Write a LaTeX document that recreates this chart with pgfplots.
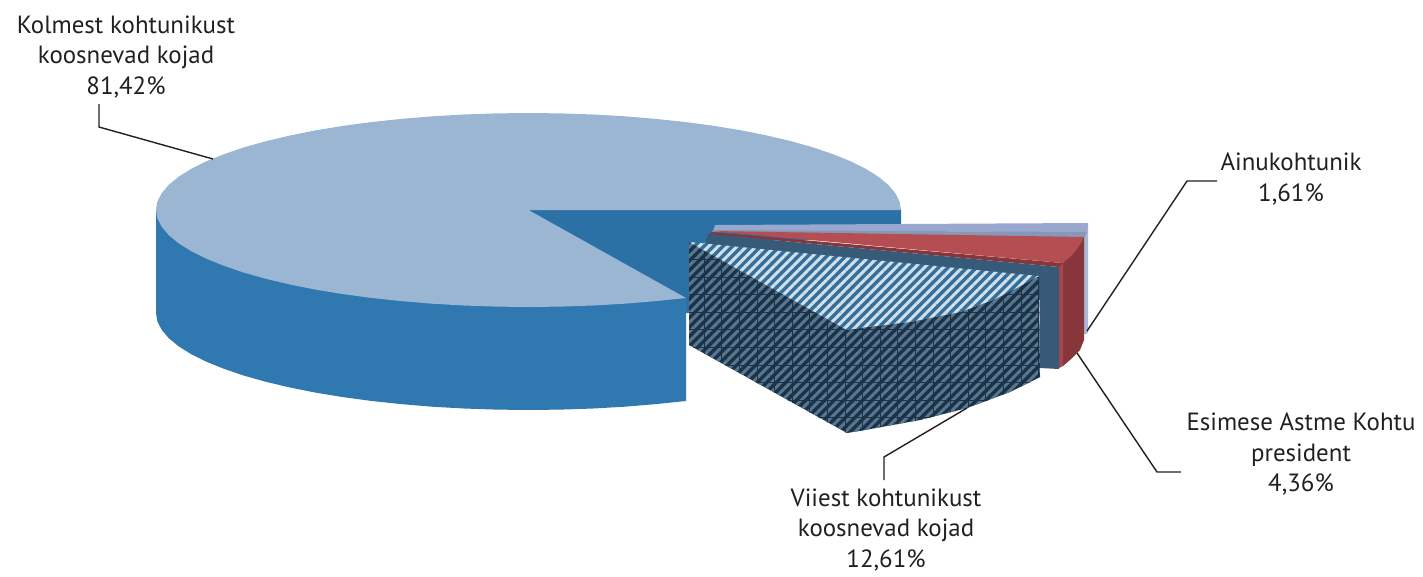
\documentclass[border=0pt]{standalone}
\usepackage{pgfplots}
\pgfplotsset{compat=1.18}
\usepackage{fontspec}
\setmainfont{PT Sans}
\usetikzlibrary{patterns.meta}
\definecolor{topblue}{HTML}{9AB6D3}
\definecolor{sideblue}{HTML}{2F78B0}
\definecolor{wallblue}{HTML}{2B71A5}
\definecolor{lavtop}{HTML}{98A8CE}
\definecolor{lavband}{HTML}{8697B8}
\definecolor{lavside}{HTML}{A9B9D3}
\definecolor{redtop}{HTML}{B54E52}
\definecolor{redside}{HTML}{87363B}
\definecolor{redstrip}{HTML}{A6464C}
\definecolor{slate}{HTML}{365A78}
\definecolor{hatchdark}{HTML}{1B3248}
\definecolor{hatchmid}{HTML}{587890}
\definecolor{hatchseam}{HTML}{2C475F}
\definecolor{hatchtop}{HTML}{346E9A}
\definecolor{hatchlight}{HTML}{D2E0E9}
\definecolor{ink}{HTML}{231F20}
\begin{document}
\begin{tikzpicture}
\begin{axis}[
  scale only axis, width=1423pt, height=576pt,
  xmin=0, xmax=1423, ymin=0, ymax=576, y dir=reverse,
  hide axis, clip=false]

% Keeps the page as large as the plotting area
\path (axis cs:0,0) rectangle (axis cs:1423,576);

% Largest slice: outer wall
\addplot[fill=sideblue, draw=none] coordinates {
 (156,210)(156,313)(157.4,321.5)(161.7,329.8)(168.7,338.1)(178.5,346.2)(190.9,354)(205.9,361.5)
 (223.4,368.6)(243.2,375.4)(265.1,381.6)(289.1,387.3)(314.8,392.5)(342.2,397)(371.1,400.9)
 (401.1,404.1)(432.1,406.7)(463.8,408.5)(496,409.6)(528.5,410)(561,409.6)(593.2,408.5)
 (624.9,406.7)(655.9,404.1)(686,401)(686,210)} --cycle;
% Largest slice: cut wall
\addplot[fill=wallblue, draw=none] coordinates {
 (528.5,210)(901,209)(901,240)(710,240)(690,250)(689,313)(686,313)(686,298)} --cycle;
% Largest slice: top face
\addplot[fill=topblue, draw=none] coordinates {
 (528.5,210)(901,210)(899.6,201.5)(895.3,193.2)(888.3,184.9)(878.5,176.8)(866.1,169)(851.1,161.5)
 (833.6,154.4)(813.8,147.6)(791.9,141.4)(767.9,135.7)(742.2,130.5)(714.8,126)(685.9,122.1)
 (655.9,118.9)(624.9,116.3)(593.2,114.5)(561,113.4)(528.5,113)(496,113.4)(463.8,114.5)
 (432.1,116.3)(401.1,118.9)(371.1,122.1)(342.2,126)(314.8,130.5)(289.1,135.7)(265.1,141.4)
 (243.2,147.6)(223.4,154.4)(205.9,161.5)(190.9,169)(178.5,176.8)(168.7,184.9)(161.7,193.2)
 (157.4,201.5)(156,210)(157.4,218.5)(161.7,226.8)(168.7,235.1)(178.5,243.2)(190.9,251)
 (205.9,258.5)(223.4,265.6)(243.2,272.4)(265.1,278.6)(289.1,284.3)(314.8,289.5)(342.2,294)
 (371.1,297.9)(401.1,301.1)(432.1,303.7)(463.8,305.5)(496,306.6)(528.5,307)(561,306.6)
 (593.2,305.5)(624.9,303.7)(655.9,301.1)(686,298)} --cycle;

% Ainukohtunik slice
\addplot[fill=lavside, draw=none] coordinates {
 (1080,223)(1088,223)(1088,333)(1083,335)(1080,335)} --cycle;
\addplot[fill=lavtop, draw=none] coordinates {
 (715,225)(1088,223)(1087,232)(713,231)} --cycle;
\addplot[fill=lavband, draw=none] coordinates {
 (713,230)(1087,232)(1084,238)(712,232)} --cycle;

% Esimese Astme Kohtu president slice
\addplot[fill=redside, draw=none] coordinates {
 (1084,237)(1084,340)(1080,350)(1070,360)(1063,366)(1063,263)} --cycle;
\addplot[fill=redstrip, draw=none] coordinates {
 (1059,266)(1063,263)(1063,366)(1059,368)} --cycle;
\addplot[fill=redside, draw=none] coordinates {
 (712,232)(1063,263)(1059,267)(708,234)} --cycle;
\addplot[fill=redtop, draw=none] coordinates {
 (712,231)(1084,237)(1081,243)(1077,249)(1071,256)(1063,263)} --cycle;

% Viiest kohtunikust slice: backing wall
\addplot[fill=slate, draw=none] coordinates {
 (708,234)(1059,267)(1059,369)(1040,368)(1040,300)(700,260)} --cycle;

% Hatched side of the same slice
\addplot[fill=hatchdark, draw=none,
  postaction={pattern={Lines[angle=0,distance=17.6pt,line width=0.5pt]},pattern color=hatchseam},
  postaction={pattern={Lines[angle=90,distance=17.6pt,line width=0.5pt]},pattern color=hatchseam},
  postaction={pattern={Lines[angle=45,distance=6.7pt,line width=3pt]},pattern color=hatchmid},
  postaction={pattern={Lines[angle=0,distance=17.6pt,line width=0.35pt]},pattern color=hatchdark},
  postaction={pattern={Lines[angle=90,distance=17.6pt,line width=0.35pt]},pattern color=hatchdark}]
 coordinates {
 (689,242)(847,330)(867,327)(910,322)(960,312)(993,300)(1015,289)(1039,276)
 (1040,377)(1010,392)(967,408)(920,420)(865,430)(847,433)(689,345)} --cycle;
% Hatched top of the same slice
\addplot[fill=hatchtop, draw=none,
  postaction={pattern={Lines[angle=45,distance=6.7pt,line width=3pt]},pattern color=hatchlight}]
 coordinates {
 (689,242)(1039,276)(1015,289)(993,300)(960,312)(910,322)(867,327)(847,330)} --cycle;

% Leader lines
\addplot[ink, line width=1.4pt] coordinates {(99,104)(99,127)(213,159)};
\addplot[ink, line width=1.4pt] coordinates {(1217,181)(1187,181)(1087,331)};
\addplot[ink, line width=1.4pt] coordinates {(1181,472)(1157,472)(1077,353)};
\addplot[ink, line width=1.4pt] coordinates {(884,480)(884,457)(967,408)};

% Category labels
\tikzset{lab/.style={text=ink, align=center, inner sep=0pt, font=\fontsize{24.9}{30.2}\selectfont}}
\node[lab] at (axis cs:126,57) {Kolmest kohtunikust\\koosnevad kojad\\81,42\%};
\node[lab] at (axis cs:1291,179) {Ainukohtunik\\1,61\%};
\node[lab] at (axis cs:1301,454) {Esimese Astme Kohtu\\president\\4,36\%};
\node[lab] at (axis cs:886,530) {Viiest kohtunikust\\koosnevad kojad\\12,61\%};
\end{axis}
\end{tikzpicture}
\end{document}
